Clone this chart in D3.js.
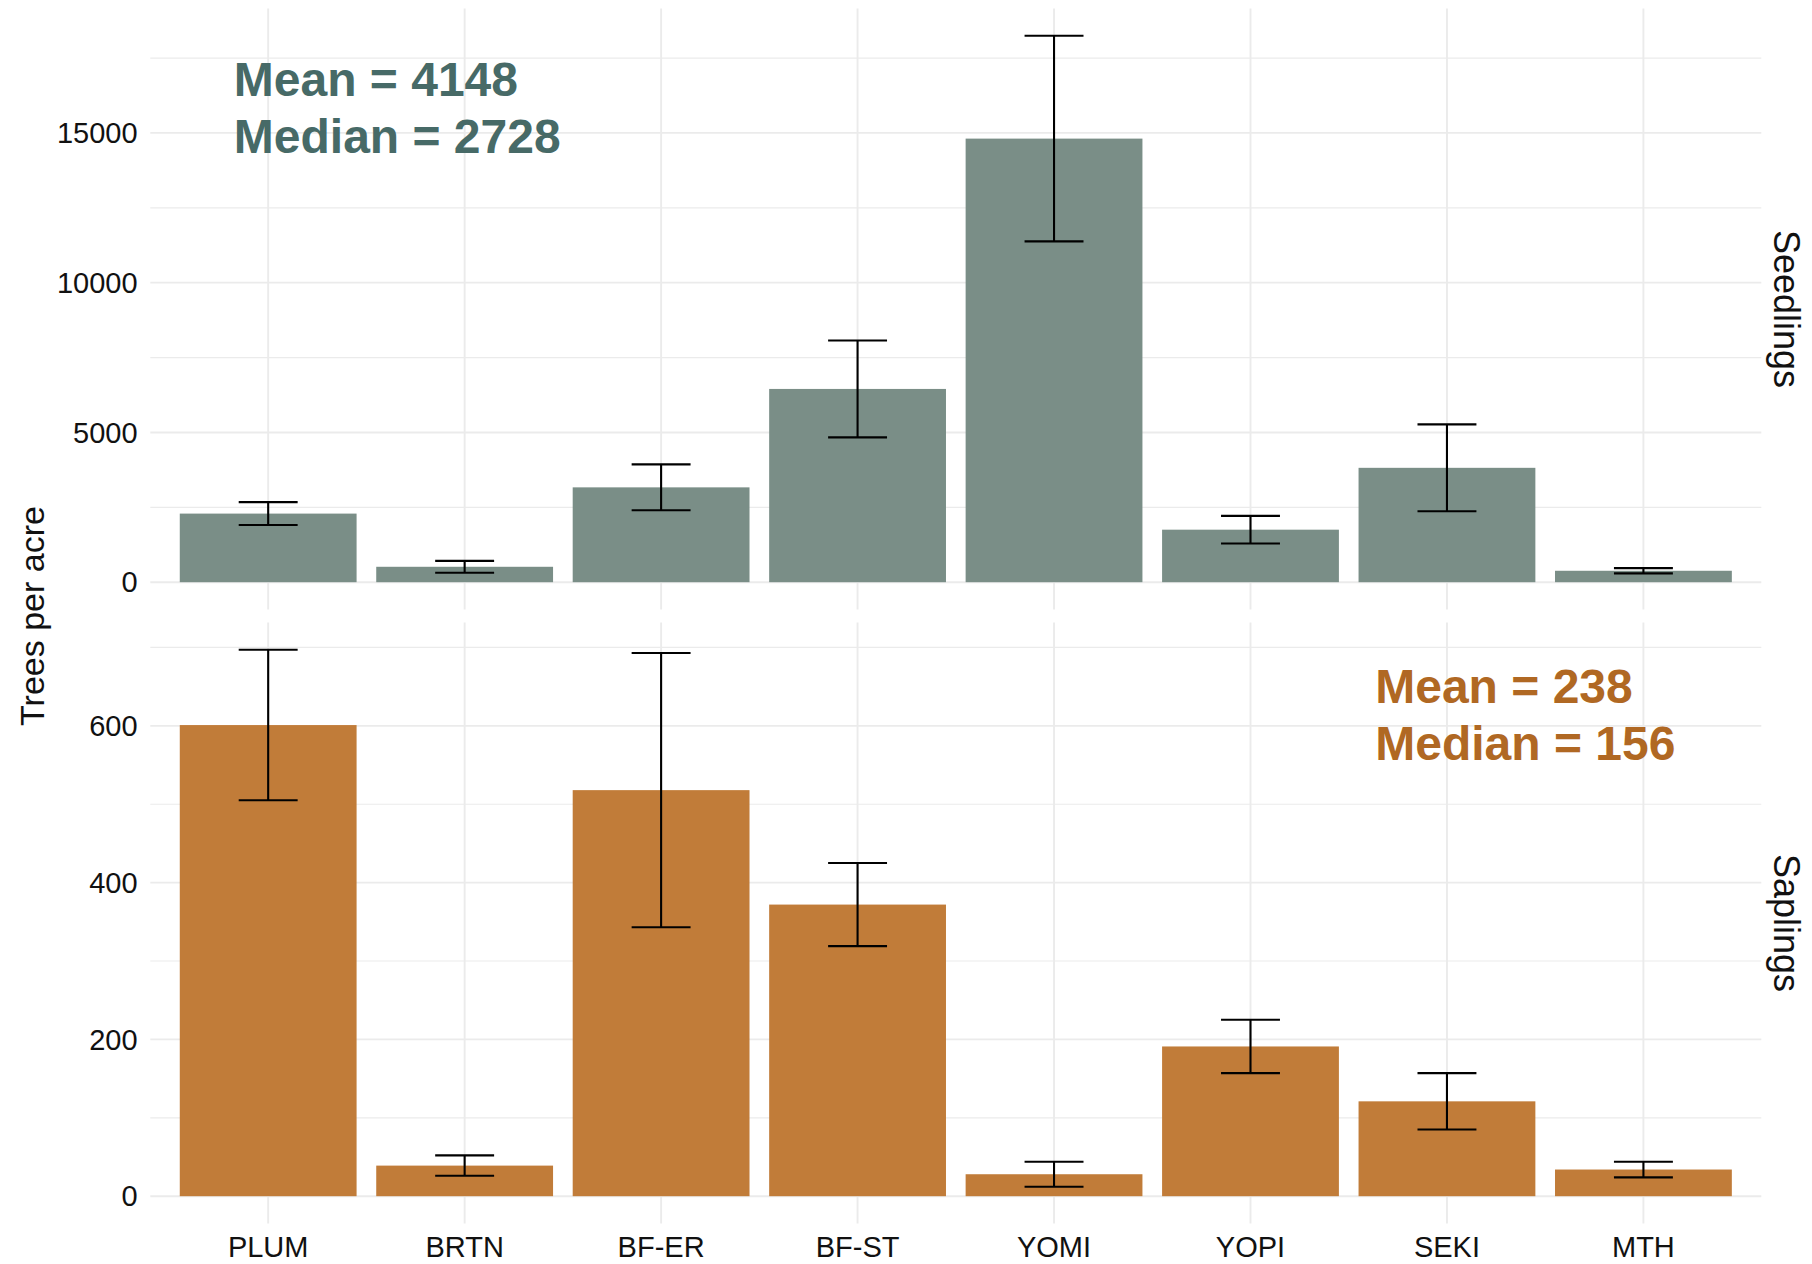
<!DOCTYPE html>
<html>
<head>
<meta charset="utf-8">
<script src="https://cdn.jsdelivr.net/npm/d3@7"></script>
<style>
  html, body { margin: 0; padding: 0; background: #ffffff; }
  svg { display: block; font-family: "Liberation Sans", Arial, Helvetica, sans-serif; }
</style>
</head>
<body>
<svg id="chart" width="1812" height="1264"></svg>
<script>
// Species / stand codes along the x axis
const categories = ["PLUM", "BRTN", "BF-ER", "BF-ST", "YOMI", "YOPI", "SEKI", "MTH"];

// Seedlings: mean trees per acre and standard error
const seedlingMean = [2290, 514, 3166, 6452, 14810, 1753, 3818, 381];
const seedlingSE   = [383, 199, 766, 1618, 3432, 462, 1452, 87];

// Saplings: mean trees per acre and standard error
const saplingMean = [601, 39, 518, 372, 28, 191, 121, 34];
const saplingSE   = [96, 13, 175, 53, 16, 34, 36, 10];

// Facet rows and axis ticks
const facetLabels = ["Seedlings", "Saplings"];
const seedlingTicks = [0, 5000, 10000, 15000];
const saplingTicks  = [0, 200, 400, 600];
const yTitle = "Trees per acre";

const W = 1812, H = 1264;
const svg = d3.select("#chart");

const left = 150.3, right = 1761.3;
const panels = [
  { label: facetLabels[0], mean: seedlingMean, se: seedlingSE, ticks: seedlingTicks,
    top: 8.5, bottom: 609.5, fill: "#7a8e87", textFill: "#476a67",
    noteX: -0.175, noteY: 95.5 },
  { label: facetLabels[1], mean: saplingMean, se: saplingSE, ticks: saplingTicks,
    top: 622.5, bottom: 1223.5, fill: "#c17c39", textFill: "#b06823",
    noteX: 5.635, noteY: 703 }
];

const x = d3.scaleBand()
  .domain(categories)
  .range([left, right])
  .paddingInner(0.1)
  .paddingOuter(0.15);
const step = x.step();
const cx = d => x(d) + x.bandwidth() / 2;

const gridColor = "#ebebeb";
const textColor = "#111111";

panels.forEach(p => {
  const rows = categories.map((c, i) => ({
    cat: c, mean: p.mean[i], lo: p.mean[i] - p.se[i], hi: p.mean[i] + p.se[i]
  }));
  const maxV = d3.max(rows, d => d.hi);
  const y = d3.scaleLinear()
    .domain([-0.05 * maxV, 1.05 * maxV])
    .range([p.bottom, p.top]);

  const g = svg.append("g");

  // minor gridlines halfway between labelled ticks
  const tStep = p.ticks[1] - p.ticks[0];
  const minor = d3.range(tStep / 2, y.domain()[1], tStep);
  g.selectAll("line.minor").data(minor).join("line")
    .attr("x1", left).attr("x2", right)
    .attr("y1", d => y(d)).attr("y2", d => y(d))
    .attr("stroke", gridColor).attr("stroke-width", 1.2);

  // major gridlines
  g.selectAll("line.major").data(p.ticks).join("line")
    .attr("x1", left).attr("x2", right)
    .attr("y1", d => y(d)).attr("y2", d => y(d))
    .attr("stroke", gridColor).attr("stroke-width", 1.9);

  // vertical gridlines at each category
  g.selectAll("line.vgrid").data(categories).join("line")
    .attr("x1", d => cx(d)).attr("x2", d => cx(d))
    .attr("y1", p.top).attr("y2", p.bottom)
    .attr("stroke", gridColor).attr("stroke-width", 1.9);

  // y tick labels
  g.selectAll("text.ytick").data(p.ticks).join("text")
    .attr("x", 137.6).attr("y", d => y(d)).attr("dy", "0.35em")
    .attr("text-anchor", "end")
    .attr("font-size", 29).attr("fill", textColor)
    .text(d => d);

  // bars
  g.selectAll("rect.bar").data(rows).join("rect")
    .attr("x", d => x(d.cat)).attr("width", x.bandwidth())
    .attr("y", d => y(d.mean)).attr("height", d => y(0) - y(d.mean))
    .attr("fill", p.fill);

  // error bars (mean ± SE)
  const capHalf = 0.15 * step;
  const eb = g.selectAll("g.err").data(rows).join("g")
    .attr("stroke", "#000").attr("stroke-width", 2.1).attr("fill", "none");
  eb.append("line")
    .attr("x1", d => cx(d.cat)).attr("x2", d => cx(d.cat))
    .attr("y1", d => y(d.lo)).attr("y2", d => y(d.hi));
  eb.append("line")
    .attr("x1", d => cx(d.cat) - capHalf).attr("x2", d => cx(d.cat) + capHalf)
    .attr("y1", d => y(d.hi)).attr("y2", d => y(d.hi));
  eb.append("line")
    .attr("x1", d => cx(d.cat) - capHalf).attr("x2", d => cx(d.cat) + capHalf)
    .attr("y1", d => y(d.lo)).attr("y2", d => y(d.lo));

  // summary note
  const meanV = Math.round(d3.mean(p.mean));
  const medV = Math.round(d3.median(p.mean));
  const nx = cx(categories[0]) + p.noteX * step;
  const note = g.append("text")
    .attr("font-size", 48).attr("font-weight", "bold").attr("fill", p.textFill);
  note.append("tspan").attr("x", nx).attr("y", p.noteY).text(`Mean = ${meanV}`);
  note.append("tspan").attr("x", nx).attr("y", p.noteY + 57).text(`Median = ${medV}`);

  // facet strip label on the right
  svg.append("text")
    .attr("transform", `translate(1774,${(p.top + p.bottom) / 2}) rotate(90)`)
    .attr("text-anchor", "middle")
    .attr("font-size", 36).attr("fill", textColor)
    .text(p.label);
});

// x tick labels under the lower panel
svg.selectAll("text.xtick").data(categories).join("text")
  .attr("x", d => cx(d)).attr("y", 1257)
  .attr("text-anchor", "middle")
  .attr("font-size", 29).attr("fill", textColor)
  .text(d => d);

// y axis title
svg.append("text")
  .attr("transform", `translate(43.5,${(panels[0].top + panels[1].bottom) / 2}) rotate(-90)`)
  .attr("text-anchor", "middle")
  .attr("font-size", 34).attr("fill", textColor)
  .text(yTitle);
</script>
</body>
</html>
